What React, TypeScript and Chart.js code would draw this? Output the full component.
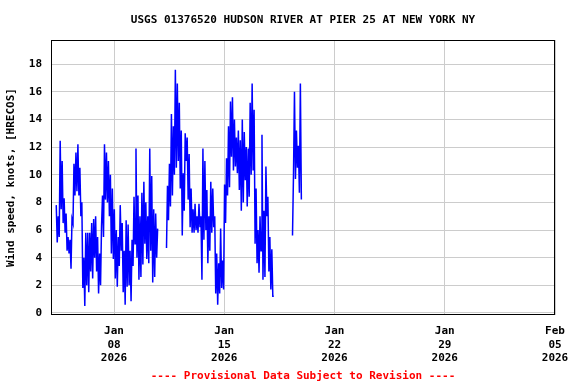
import React, { useEffect, useRef } from "react";
import { Chart, registerables } from "chart.js";

Chart.register(...registerables);

const TITLE = "USGS 01376520 HUDSON RIVER AT PIER 25 AT NEW YORK NY";
const Y_TITLE = "Wind speed, knots, [HRECOS]";
const FOOTER = "---- Provisional Data Subject to Revision ----";

// x axis in "day of January 2026" units (Feb 05 = 36)
const X_MIN_DAY = 4;
const X_MAX_DAY = 36;
const X_TICK_DAYS = [8, 15, 22, 29, 36];
const X_TICK_LABELS = [
  ["Jan", "08", "2026"],
  ["Jan", "15", "2026"],
  ["Jan", "22", "2026"],
  ["Jan", "29", "2026"],
  ["Feb", "05", "2026"],
];
const Y_TICKS = [0, 2, 4, 6, 8, 10, 12, 14, 16, 18];
const Y_MIN = -0.15;
const Y_MAX = 19.75;

const SAMPLE_HOURS = 1.5;

// First record: Jan 04 08:00, every 1.5 h (null = missing record)
const SEG1_START_DAY = 4 + 8 / 24;
const SEG1_VALUES: (number | null)[] = [
  7.8, 5.1, 7.0, 5.5, 12.45, 7.5, 11.0, 6.5, 8.3, 5.8,
  7.2, 4.5, 5.5, 4.3, 5.3, 3.2, 6.8, 6.5, 10.8, 8.5,
  11.6, 8.8, 12.2, 8.5, 10.5, 7.0, 8.0, 1.8, 4.0, 0.5,
  5.8, 2.0, 5.8, 1.5, 5.8, 3.0, 6.5, 2.5, 6.8, 4.0,
  7.0, 3.0, 5.5, 1.4, 4.3, 2.0, 6.3, 8.5, 5.5, 12.2,
  8.2, 11.6, 8.0, 11.0, 7.0, 10.0, 4.3, 9.0, 3.9, 7.5,
  2.5, 6.0, 1.9,
  5.5, 3.4, 7.8, 4.5, 6.5, 1.5, 4.5, 0.6, 6.7, 1.9,
  6.4, 2.0, 4.5, 0.85, 5.3, 3.4, 8.4, 5.0, 11.9, 4.0,
  8.5, 2.4, 7.0, 2.6, 8.7, 3.5, 9.5, 5.0, 8.0, 3.9,
  7.0, 3.6, 11.9, 4.5, 9.9, 2.2, 7.5, 2.6, 7.2, 4.0,
  6.1,
  null, null, null, null, null, null, null, null,
  4.7, 9.2, 6.7, 10.8, 7.7, 14.4, 8.5, 13.5, 10.0, 17.6,
  10.5, 16.6, 11.0, 15.2, 9.0, 13.2, 5.6, 10.1, 7.4, 13.0,
  11.0, 12.7, 8.2, 11.5, 6.2, 9.0, 5.8, 7.5, 5.8, 7.9,
  6.0, 7.0, 5.8, 7.9, 6.2, 7.0, 2.4, 11.9, 5.3, 11.0,
  6.0, 8.9, 3.6, 7.0, 4.5, 9.5, 5.8, 9.0, 6.2, 7.0,
  1.4, 4.3, 0.6, 3.6, 1.4, 6.1, 1.8, 3.8, 1.7, 9.3,
  6.5, 11.2, 8.5, 13.5, 9.1, 15.3, 11.3, 15.6, 10.3, 14.0,
  10.6, 12.7, 10.1, 13.2, 8.9, 12.5, 7.4, 14.0, 8.0, 13.1,
  9.6, 12.0, 7.7, 11.9, 8.4, 15.2, 10.0, 16.6, 10.3, 14.7,
  5.0, 9.0, 3.6, 6.0, 2.9, 7.0, 4.5, 12.9, 2.4, 7.4,
  2.6, 10.6, 7.0, 8.4, 3.0, 5.5, 1.7, 4.6, 1.2, 1.2,
];

// Second block of records: Jan 19 08:00, every 1.5 h
const SEG2_START_DAY = 19 + 8 / 24;
const SEG2_VALUES: number[] = [5.6, 10.0, 16.0, 9.7, 13.2, 10.5, 12.1, 8.7, 16.6, 8.2];

const FONT = '"DejaVu Sans Mono", monospace';
const LINE_COLOR = "#0000ff";
const GRID_COLOR = "#cccccc";

function toPoints(start: number, values: (number | null)[]) {
  return values.map((v, i) => ({ x: start + (i * SAMPLE_HOURS) / 24, y: v }));
}

const decorPlugin = {
  id: "decor",
  afterDraw(chart: any) {
    const { ctx, chartArea: a } = chart;
    ctx.save();
    ctx.strokeStyle = "#000";
    ctx.lineWidth = 1;
    const l = Math.round(a.left) + 0.5;
    const t = Math.round(a.top) + 0.5;
    const r = Math.round(a.right) - 0.5;
    const b = Math.round(a.bottom) - 0.5;
    ctx.strokeRect(l, t, r - l, b - t);
    const cx = (a.left + a.right) / 2;
    ctx.font = `bold 11px ${FONT}`;
    ctx.textAlign = "center";
    ctx.textBaseline = "middle";
    ctx.fillStyle = "#000";
    ctx.fillText(TITLE, cx, 20);
    ctx.fillStyle = "#ff0000";
    ctx.fillText(FOOTER, cx, 376);
    ctx.restore();
  },
};

export default function App() {
  const ref = useRef<HTMLCanvasElement | null>(null);
  useEffect(() => {
    if (!ref.current) return;
    const lineStyle = {
      borderColor: LINE_COLOR,
      borderWidth: 1.5,
      pointRadius: 0,
      tension: 0,
      spanGaps: false,
    };
    const chart = new Chart(ref.current, {
      type: "line",
      data: {
        datasets: [
          { data: toPoints(SEG1_START_DAY, SEG1_VALUES) as any, ...lineStyle },
          { data: toPoints(SEG2_START_DAY, SEG2_VALUES) as any, ...lineStyle },
        ],
      },
      options: {
        animation: false,
        responsive: false,
        devicePixelRatio: 1,
        layout: { padding: { top: 40, right: 21, left: 0, bottom: 0 } },
        plugins: { legend: { display: false }, tooltip: { enabled: false }, title: { display: false } },
        scales: {
          x: {
            type: "linear",
            min: X_MIN_DAY,
            max: X_MAX_DAY,
            afterBuildTicks: (s: any) => {
              s.ticks = X_TICK_DAYS.map((v) => ({ value: v }));
            },
            afterFit: (s: any) => {
              s.height = 69;
              s.paddingLeft = 0;
              s.paddingRight = 0;
            },
            grid: { color: GRID_COLOR, drawTicks: false, lineWidth: 1 },
            border: { display: false },
            ticks: {
              padding: 10,
              maxRotation: 0,
              autoSkip: false,
              color: "#000",
              font: { family: FONT, size: 11, weight: "bold", lineHeight: 1.2 },
              callback: (v: any) => {
                const i = X_TICK_DAYS.indexOf(Number(v));
                return i >= 0 ? X_TICK_LABELS[i] : "";
              },
            },
          },
          y: {
            type: "linear",
            min: Y_MIN,
            max: Y_MAX,
            afterBuildTicks: (s: any) => {
              s.ticks = Y_TICKS.map((v) => ({ value: v }));
            },
            afterFit: (s: any) => {
              s.width = 51;
              s.paddingTop = 0;
              s.paddingBottom = 0;
            },
            grid: { color: GRID_COLOR, drawTicks: false, lineWidth: 1 },
            border: { display: false },
            title: {
              display: true,
              text: Y_TITLE,
              color: "#000",
              font: { family: FONT, size: 11, weight: "bold" },
              padding: { top: 5, bottom: 0 },
            },
            ticks: {
              padding: 9,
              color: "#000",
              font: { family: FONT, size: 11, weight: "bold" },
              callback: (v: any) => String(v),
            },
          },
        },
      },
      plugins: [decorPlugin],
    });
    return () => chart.destroy();
  }, []);
  return (
    <div style={{ position: "absolute", left: 0, top: 0, width: 576, height: 384 }}>
      <canvas ref={ref} width={576} height={384} />
    </div>
  );
}
